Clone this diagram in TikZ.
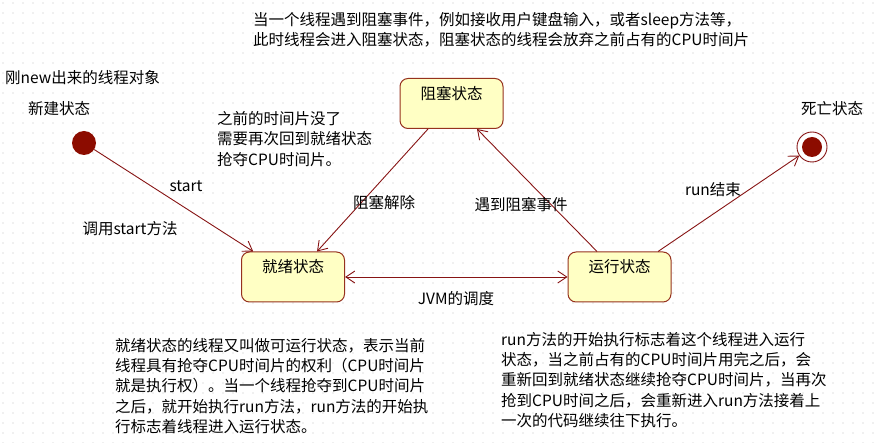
\documentclass[tikz,border=0pt]{standalone}
\usepackage{fontspec}
\setmainfont{Noto Sans CJK SC}
\usetikzlibrary{arrows.meta,positioning}
\definecolor{lineRed}{RGB}{135,20,20}
\definecolor{dotRed}{RGB}{140,12,0}
\definecolor{stateFill}{RGB}{255,255,196}
\definecolor{stateEdge}{RGB}{150,50,30}
\definecolor{gridDot}{RGB}{190,190,190}

\begin{document}
\begin{tikzpicture}[x=1pt,y=-1pt,
  >={Straight Barb[length=9pt,width=12pt]},
  every node/.style={font=\fontsize{15.5}{20.4}\selectfont},
  state/.style={draw=stateEdge, line width=1pt, fill=stateFill, rounded corners=8pt,
    minimum width=103pt, minimum height=50pt, text depth=22pt},
  trans/.style={lineRed, line width=0.9pt},
  note/.style={align=left, inner sep=0pt, anchor=west}]
\useasboundingbox (0,0) rectangle (875,443);
% BACKGROUND: dotted drawing grid
\foreach \gx in {3,13,...,873}
  \foreach \gy in {3,13,...,443}
    \fill[gridDot] (\gx,\gy) circle (0.6pt);

% STATES
\node[circle, fill=dotRed, minimum size=24pt, inner sep=0pt] (new) at (84,143) {};
\node[state] (blocked) at (451.5,103.5) {阻塞状态};
\node[state] (ready) at (293,277) {就绪状态};
\node[state] (running) at (619.5,277) {运行状态};
\node[circle, draw=lineRed, line width=0.9pt, fill=white, minimum size=30pt, inner sep=0pt] (dead) at (812,147) {};
\node[circle, fill=dotRed, minimum size=20pt, inner sep=0pt] (deadcore) at (dead) {};

% TRANSITIONS
\draw[trans, ->] (new) -- (ready);
\draw[trans, ->] ([xshift=-23.5]blocked.south) -- ([xshift=24]ready.north);
\draw[trans, ->] ([xshift=-22.5]running.north) -- ([xshift=25.5]blocked.south);
\draw[trans, ->] ([xshift=38.5]running.north) -- (dead);
\draw[trans, <->] (ready) -- (running);

% LABELS
\node[note] (newnote) at (5,78) {刚new出来的线程对象};
\node (newlbl) at (59,109) {新建状态};
\node (deadlbl) at (832,109) {死亡状态};
\node (startlbl) at (186,186) {start};
\node (startcall) at (130,229) {调用start方法};
\node (unblock) at (384,203) {阻塞解除};
\node (blockev) at (521,205) {遇到阻塞事件};
\node (runend) at (713,190) {run结束};
\node (jvm) at (456,299) {JVM的调度};

% NOTES
\node[note] (blocknote) at (253,30) {当一个线程遇到阻塞事件，例如接收用户键盘输入，或者sleep方法等，\\
  此时线程会进入阻塞状态，阻塞状态的线程会放弃之前占有的CPU时间片};
\node[note] (backnote) at (217,139) {之前的时间片没了\\需要再次回到就绪状态\\抢夺CPU时间片。};
\node[note] (readynote) at (115,386) {就绪状态的线程又叫做可运行状态，表示当前\\
  线程具有抢夺CPU时间片的权利（CPU时间片\\
  就是执行权）。当一个线程抢夺到CPU时间片\\
  之后，就开始执行run方法，run方法的开始执\\
  行标志着线程进入运行状态。};
\node[note] (runnote) at (501,380) {run方法的开始执行标志着这个线程进入运行\\
  状态，当之前占有的CPU时间片用完之后，会\\
  重新回到就绪状态继续抢夺CPU时间片，当再次\\
  抢到CPU时间之后，会重新进入run方法接着上\\
  一次的代码继续往下执行。};
\end{tikzpicture}
\end{document}
